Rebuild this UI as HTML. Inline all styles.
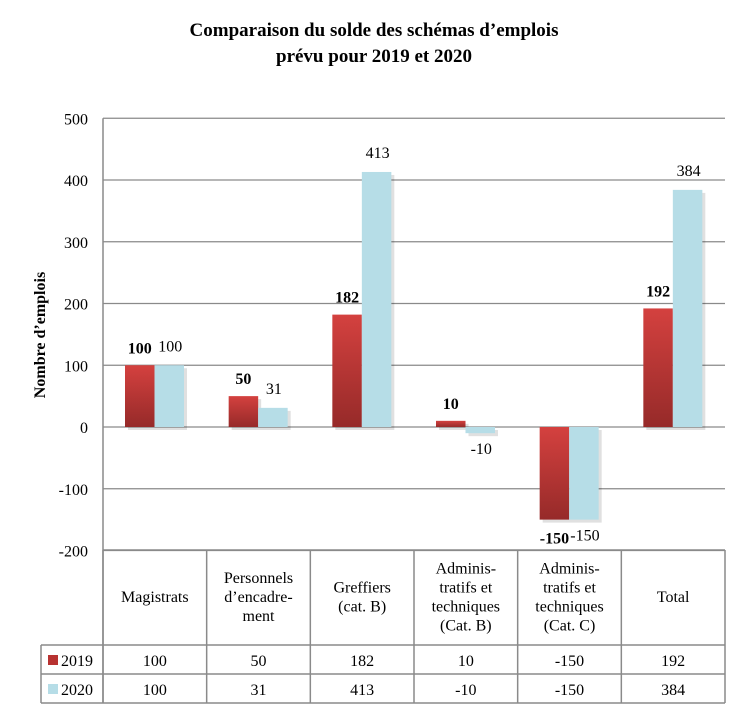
<!DOCTYPE html>
<html><head><meta charset="utf-8"><style>
body{margin:0;background:#fff;}
svg text{font-family:"Liberation Serif",serif;}
</style></head><body>
<svg width="748" height="713" xmlns="http://www.w3.org/2000/svg">
<defs>
<linearGradient id="gRed" x1="0" y1="0" x2="0" y2="1"><stop offset="0" stop-color="#d4413f"/><stop offset="1" stop-color="#962a29"/></linearGradient>
</defs>
<text x="374" y="36" text-anchor="middle" font-size="19" font-weight="bold">Comparaison du solde des schémas d’emplois</text>
<text x="374" y="62" text-anchor="middle" font-size="19" font-weight="bold">prévu pour 2019 et 2020</text>
<text transform="translate(45,335) rotate(-90)" text-anchor="middle" font-size="16" font-weight="bold">Nombre d’emplois</text>
<g id="grid"></g><g id="bars"></g><g id="labels"></g><g id="table"></g>
</svg>
<script>
const categories=["Magistrats","Personnels|d’encadre-|ment","Greffiers|(cat. B)","Adminis-|tratifs et|techniques|(Cat. B)","Adminis-|tratifs et|techniques|(Cat. C)","Total"];
const s2019=[100,50,182,10,-150,192];
const s2020=[100,31,413,-10,-150,384];
const ticks=[500,400,300,200,100,0,-100,-200];
const NS="http://www.w3.org/2000/svg";
const X0=103,X1=725,catW=(X1-X0)/6;
function y(v){return 427-v*0.6175;}
function mk(p,t,a){const e=document.createElementNS(NS,t);for(const k in a)e.setAttribute(k,a[k]);p.appendChild(e);return e;}
const grid=document.getElementById('grid'),bars=document.getElementById('bars'),labels=document.getElementById('labels'),table=document.getElementById('table');
ticks.forEach(t=>{
 const l=mk(grid,'line',{x1:X0,x2:X1,y1:y(t),y2:y(t),stroke:'#8a8a8a','stroke-width':1.3});
 
 
 const tx=mk(grid,'text',{x:88,y:y(t)+6,'text-anchor':'end','font-size':16});
 tx.textContent=t;
 
 
});
mk(grid,'line',{x1:X0,x2:X0,y1:y(500),y2:703,stroke:'#8a8a8a','stroke-width':1.5});
categories.forEach((c,i)=>{
 const bx=X0+i*catW+22,bw=29.5;
 [[s2019[i],'url(#gRed)',bx,'bar-2019'],[s2020[i],'#b6dde7',bx+bw,'bar-2020']].forEach(([v,f,x,n],j)=>{
  const top=Math.min(y(v),y(0)),h=Math.abs(y(v)-y(0));
  mk(bars,'rect',{x:x+3,y:top+3,width:bw,height:h,fill:'#000',opacity:0.12});
  const r=mk(bars,'rect',{x:x,y:top,width:bw,height:h,fill:f});
  
  
  const ly=v>=0?y(v)-(j?14:12):y(v)+(j?21:24);
  const t=mk(labels,'text',{x:x+bw/2+(j?1:0),y:ly,'text-anchor':'middle','font-size':16,'font-weight':j?'normal':'bold'});
  t.textContent=v;
  
  
 });
});
const L='#8a8a8a';
for(let i=0;i<=6;i++)mk(table,'line',{x1:X0+i*catW,x2:X0+i*catW,y1:550,y2:703,stroke:L,'stroke-width':1.5});
mk(table,'line',{x1:41,x2:41,y1:645,y2:703,stroke:L,'stroke-width':1.5});
mk(table,'line',{x1:X0,x2:X1,y1:550,y2:550,stroke:L,'stroke-width':1.5});
[645,674,703].forEach(yy=>mk(table,'line',{x1:41,x2:X1,y1:yy,y2:yy,stroke:L,'stroke-width':1.5}));
categories.forEach((c,i)=>{
 const parts=c.split('|'),cx=X0+(i+0.5)*catW,lh=19,start=597-(parts.length-1)*lh/2+5;
 const t=mk(table,'text',{x:cx,y:start,'text-anchor':'middle','font-size':16});
 
 
 parts.forEach((p,k)=>{const s=mk(t,'tspan',{x:cx,y:start+k*lh});s.textContent=p;});
 [[s2019[i],666],[s2020[i],695]].forEach(([v,yy])=>{
  const d=mk(table,'text',{x:cx,y:yy,'text-anchor':'middle','font-size':16});d.textContent=v;
  
  
 });
});
[['2019','#b83231',666],['2020','#b6dde7',695]].forEach(([n,c,yy])=>{
 const g=mk(table,'g',{});
 
 
 mk(g,'rect',{x:48,y:yy-11,width:10,height:10,fill:c});
 const t=mk(g,'text',{x:61,y:yy,'font-size':16});t.textContent=n;
});
</script>
</body></html>
